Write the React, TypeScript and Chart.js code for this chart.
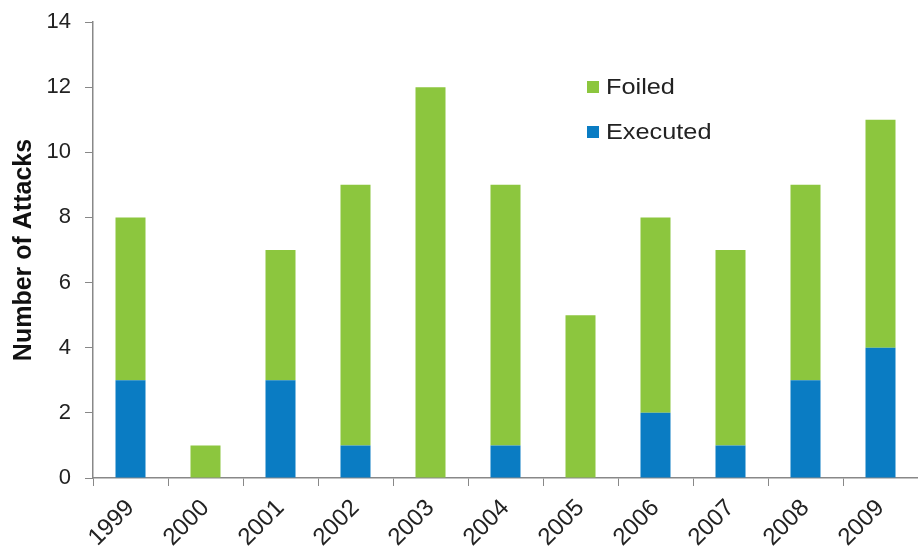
import React, { useEffect, useRef } from "react";
import { Chart, registerables } from "chart.js";

Chart.register(...registerables);

const years = ["1999", "2000", "2001", "2002", "2003", "2004", "2005", "2006", "2007", "2008", "2009"];
const executed = [3, 0, 3, 1, 0, 1, 0, 2, 1, 3, 4];
const foiled = [5, 1, 4, 8, 12, 8, 5, 6, 6, 6, 7];
const yTicks = [0, 2, 4, 6, 8, 10, 12, 14];

const GREEN = "#8cc63e";
const BLUE = "#0a7cc3";
const FONT = "'Liberation Sans', Arial, sans-serif";

const legendPlugin = {
  id: "customLegend",
  afterDraw(chart: any) {
    const ctx = chart.ctx;
    const items = [
      { label: "Foiled", color: GREEN, y: 87 },
      { label: "Executed", color: BLUE, y: 132 },
    ];
    ctx.save();
    ctx.textBaseline = "middle";
    ctx.textAlign = "left";
    for (const it of items) {
      ctx.fillStyle = it.color;
      ctx.fillRect(587, it.y - 6, 12, 12);
      ctx.save();
      ctx.translate(606, it.y);
      ctx.scale(1.15, 1);
      ctx.font = `22px ${FONT}`;
      ctx.fillStyle = "#222";
      ctx.fillText(it.label, 0, 1);
      ctx.restore();
    }
    ctx.restore();
  },
};

export default function App() {
  const ref = useRef<HTMLCanvasElement>(null);
  useEffect(() => {
    if (!ref.current) return;
    const chart = new Chart(ref.current, {
      type: "bar",
      data: {
        labels: years,
        datasets: [
          { label: "Executed", data: executed, backgroundColor: BLUE },
          { label: "Foiled", data: foiled, backgroundColor: GREEN },
        ],
      },
      options: {
        responsive: false,
        animation: false,
        layout: { padding: { top: 22, right: 0, left: 0, bottom: 0 } },
        datasets: { bar: { categoryPercentage: 1, barPercentage: 0.4 } } as any,
        plugins: { legend: { display: false }, tooltip: { enabled: false } },
        scales: {
          x: {
            stacked: true,
            grid: {
              offset: true,
              drawOnChartArea: false,
              drawTicks: true,
              tickLength: 8,
              color: "#888",
            },
            border: { color: "#888", width: 1.5 },
            ticks: {
              maxRotation: 45,
              minRotation: 45,
              color: "#222",
              font: { family: FONT, size: 24 },
              padding: 8,
            },
            afterFit: (s: any) => {
              s.height = 71;
              s.paddingLeft = 0;
              s.paddingRight = 0;
            },
          },
          y: {
            stacked: true,
            min: 0,
            max: 14,
            afterBuildTicks: (s: any) => {
              s.ticks = yTicks.map((v) => ({ value: v }));
            },
            grid: {
              drawOnChartArea: false,
              drawTicks: true,
              tickLength: 8,
              color: "#888",
            },
            border: { color: "#888", width: 1.5 },
            ticks: {
              color: "#222",
              font: { family: FONT, size: 22 },
              padding: 14,
            },
            title: {
              display: true,
              text: "Number of Attacks",
              color: "#111",
              font: { family: FONT, size: 25, weight: "bold" },
              padding: { top: 9, bottom: 4 },
            },
            afterFit: (s: any) => {
              s.width = 93;
              s.paddingTop = 0;
              s.paddingBottom = 0;
            },
          },
        },
      },
      plugins: [legendPlugin],
    });
    return () => chart.destroy();
  }, []);
  return (
    <div style={{ position: "fixed", left: 0, top: 0, width: 918, height: 549, background: "#fff" }}>
      <canvas ref={ref} width={918} height={549} />
    </div>
  );
}
